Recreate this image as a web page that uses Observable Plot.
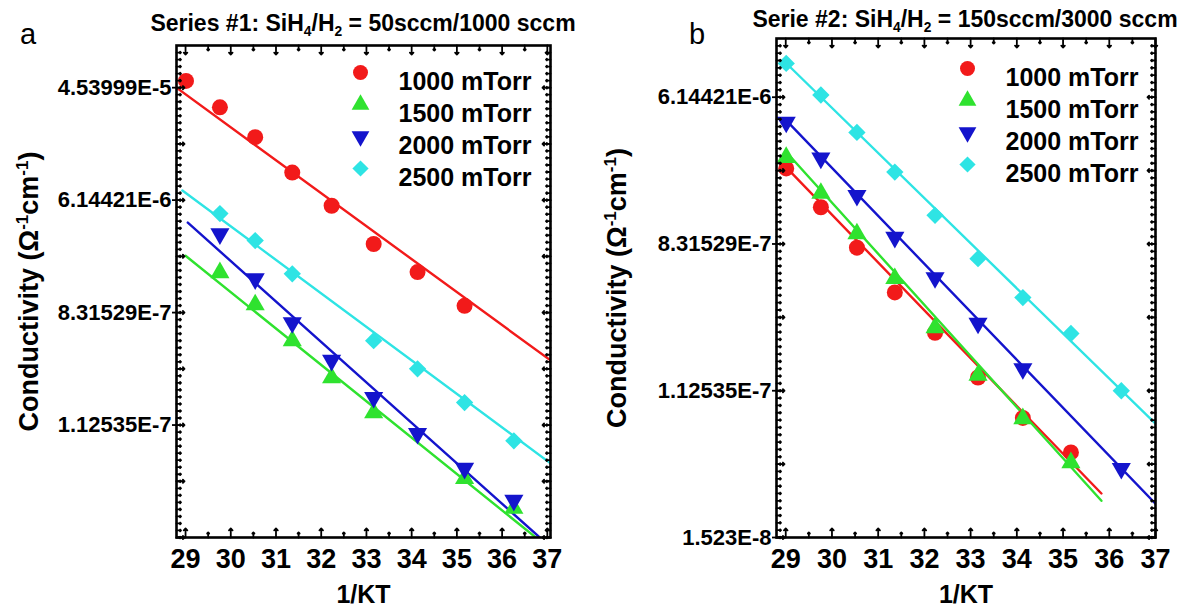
<!DOCTYPE html>
<html>
<head>
<meta charset="utf-8">
<script src="https://cdn.jsdelivr.net/npm/d3@7"></script>
<script src="https://cdn.jsdelivr.net/npm/@observablehq/plot@0.6"></script>
<style>
  body { margin: 0; background: #fff; }
  #root { position: relative; width: 1186px; height: 607px; overflow: hidden; font-family: "Liberation Sans", Arial, sans-serif; color: #000; }
  .panel { position: absolute; top: 0; }
  .title { position: absolute; font-weight: bold; font-size: 23px; white-space: nowrap; transform: translateX(-50%); line-height: 1; }
  .title sub { font-size: 60%; vertical-align: -0.35em; line-height: 0; }
  .letter { position: absolute; font-size: 29px; line-height: 1; }
</style>
</head>
<body>
<div id="root"></div>
<script>
// ---------- data ----------
const invKT = [29.01, 29.76, 30.54, 31.36, 32.23, 33.16, 34.13, 35.17, 36.26];
const seriesNames = ["1000 mTorr", "1500 mTorr", "2000 mTorr", "2500 mTorr"];
const seriesColors = ["#f21a1a", "#2fe22f", "#1414cc", "#2ee4e4"];

// ln(conductivity) (null = no point)
const a1000 = [-9.88, -10.35, -10.88, -11.51, -12.10, -12.78, -13.28, -13.88, null];
const a1500 = [null, -13.29, -13.86, -14.50, -15.16, -15.78, null, -16.95, -17.48];
const a2000 = [null, -12.60, -13.40, -14.18, -14.85, -15.51, -16.15, -16.77, -17.34];
const a2500 = [null, -12.24, -12.72, -13.31, null, -14.50, -15.00, -15.60, -16.28];
// ln(conductivity)
const b1000 = [-12.97, -13.50, -14.05, -14.66, -15.21, -15.82, -16.37, -16.84, null];
const b1500 = [-12.82, -13.31, -13.86, -14.47, -15.14, -15.79, -16.38, -16.98, null];
const b2000 = [-12.34, -12.83, -13.34, -13.91, -14.46, -15.08, -15.70, null, -17.06];
const b2500 = [-11.54, -11.97, -12.48, -13.02, -13.61, -14.20, -14.73, -15.22, -16.00];

// fitted lines (as drawn in the figure): start/end 1/KT and ln(conductivity)
const aFitX0  = [28.80, 29.00, 29.05, 28.93];
const aFitLn0 = [-10.00, -12.99, -12.40, -11.83];
const aFitX1  = [37.07, 37.07, 37.07, 37.07];
const aFitLn1 = [-14.85, -18.21, -18.17, -16.68];
const bFitX0  = [29.00, 29.00, 29.00, 28.95];
const bFitLn0 = [-12.95, -12.74, -12.31, -11.50];
const bFitX1  = [35.83, 35.83, 37.00, 37.00];
const bFitLn1 = [-17.40, -17.50, -17.54, -16.45];

// axis ticks
const xTickValues = [29, 30, 31, 32, 33, 34, 35, 36, 37];
const aYTickLn = [-10, -12, -14, -16];
const aYTickLabels = ["4.53999E-5", "6.14421E-6", "8.31529E-7", "1.12535E-7"];
const bYTickLn = [-12, -14, -16, -18];
const bYTickLabels = ["6.14421E-6", "8.31529E-7", "1.12535E-7", "1.523E-8"];

const titleA = 'Series #1: SiH<sub>4</sub>/H<sub>2</sub> = 50sccm/1000 sccm';
const titleB = 'Serie #2: SiH<sub>4</sub>/H<sub>2</sub> = 150sccm/3000 sccm';

// ---------- helpers ----------
const sqrt3 = Math.sqrt(3);
const triangleDown = {
  draw(context, size) {
    const y = -Math.sqrt(size / (sqrt3 * 3));
    context.moveTo(0, -y * 2);
    context.lineTo(-sqrt3 * y, y);
    context.lineTo(sqrt3 * y, y);
    context.closePath();
  }
};
const seriesSymbols = ["circle", "triangle", triangleDown, "diamond2"];
const seriesR = [8, 7.1, 7.1, 7.8];

function buildPanel(cfg) {
  const marks = [];
  const series = cfg.values.map((vals) =>
    vals.map((v, i) => v == null ? null : {x: invKT[i], y: v}).filter(d => d));
  // fitted lines
  seriesNames.forEach((name, si) => {
    const seg = [{x: cfg.fitX0[si], y: cfg.fitLn0[si]}, {x: cfg.fitX1[si], y: cfg.fitLn1[si]}];
    marks.push(Plot.line(seg, {x: "x", y: "y", stroke: seriesColors[si], strokeWidth: 2.4, clip: true}));
  });
  // points
  series.forEach((pts, si) => {
    marks.push(Plot.dot(pts, {x: "x", y: "y", symbol: seriesSymbols[si], r: seriesR[si], fill: seriesColors[si], stroke: "none"}));
  });
  // legend inside frame
  seriesNames.forEach((name, si) => {
    marks.push(Plot.dot([name], {frameAnchor: "top-right", dx: cfg.legendDx, dy: cfg.legendDy + 32 * si,
      symbol: seriesSymbols[si], r: seriesR[si] - 0.5, fill: seriesColors[si]}));
    marks.push(Plot.text([name], {frameAnchor: "top-right", dx: cfg.legendDx + 38, dy: cfg.legendDy + 32 * si,
      text: d => d, textAnchor: "start", fontSize: 25, fontWeight: "bold", fill: "black"}));
  });
  // ticks
  const [l0, l1] = cfg.lnDomain;
  const majorY = d3.range(Math.ceil(l0), l1 + 1e-9, 1);
  const minorY = d3.range(Math.ceil(l0), l1, 1 / cfg.minorPerUnit);
  const minorX = d3.range(29.5, 37, 1);
  const tick = {stroke: "black", strokeWidth: 1.8, anchor: "start"};
  marks.push(Plot.vector(minorY, {y: d => d, frameAnchor: "left", rotate: 90, length: 4.5, ...tick}));
  marks.push(Plot.vector(minorY, {y: d => d, frameAnchor: "right", rotate: -90, length: 4.5, ...tick}));
  marks.push(Plot.vector(majorY, {y: d => d, frameAnchor: "left", rotate: 90, length: 8, ...tick}));
  marks.push(Plot.vector(majorY, {y: d => d, frameAnchor: "right", rotate: -90, length: 8, ...tick}));
  marks.push(Plot.vector(xTickValues, {x: d => d, frameAnchor: "bottom", rotate: 0, length: 9, ...tick}));
  marks.push(Plot.vector(xTickValues, {x: d => d, frameAnchor: "top", rotate: 180, length: 9, ...tick}));
  marks.push(Plot.vector(minorX, {x: d => d, frameAnchor: "bottom", rotate: 0, length: 5, ...tick}));
  marks.push(Plot.vector(minorX, {x: d => d, frameAnchor: "top", rotate: 180, length: 5, ...tick}));
  // axes
  const labelMap = new Map(cfg.yTickLn.map((v, i) => [v, cfg.yTickLabels[i]]));
  marks.push(Plot.axisY(cfg.yTickLn, {anchor: "left", tickSize: 4, tickPadding: 1, strokeWidth: 1.8,
    tickFormat: d => labelMap.get(d), fontSize: 22, fontWeight: "bold", label: null}));
  marks.push(Plot.axisY({anchor: "left", ticks: [], label: "Conductivity (\u03A9-1cm-1)", labelAnchor: "center",
    labelArrow: "none", labelOffset: cfg.yLabelOffset, fontSize: 27, fontWeight: "bold"}));
  marks.push(Plot.axisX(xTickValues, {anchor: "bottom", tickSize: 0, tickPadding: 11, fontSize: 27, fontWeight: "bold", label: null}));
  marks.push(Plot.axisX({anchor: "bottom", ticks: [], label: "1/KT", labelAnchor: "center", labelArrow: "none",
    labelOffset: 65, fontSize: 25, fontWeight: "bold"}));
  marks.push(Plot.frame({stroke: "black", strokeWidth: 2.6}));

  const svg = Plot.plot({
    width: cfg.width, height: 607,
    marginLeft: cfg.margin[0], marginRight: cfg.margin[1], marginTop: cfg.margin[2], marginBottom: cfg.margin[3],
    x: {domain: cfg.xDomain},
    y: {type: "linear", domain: [l0, l1]},
    style: {fontFamily: '"Liberation Sans", Arial, sans-serif', color: "black", background: "transparent", overflow: "visible"},
    marks
  });
  // superscripts in y label
  const lab = d3.select(svg).select('g[aria-label="y-axis label"] text');
  if (!lab.empty()) {
    lab.text(null);
    lab.append("tspan").text("Conductivity (\u03A9");
    lab.append("tspan").attr("font-size", 17).attr("dy", -10).text("-1");
    lab.append("tspan").attr("dy", 10).text("cm");
    lab.append("tspan").attr("font-size", 17).attr("dy", -10).text("-1");
    lab.append("tspan").attr("dy", 10).text(")");
  }
  return svg;
}

const root = document.getElementById("root");

const panelA = buildPanel({
  width: 593, margin: [176, 43, 45, 70],
  xDomain: [28.8, 37.07], lnDomain: [-18, -9.25], minorPerUnit: 8,
  values: [a1000, a1500, a2000, a2500],
  fitX0: aFitX0, fitLn0: aFitLn0, fitX1: aFitX1, fitLn1: aFitLn1,
  yTickLn: aYTickLn, yTickLabels: aYTickLabels, yLabelOffset: 158,
  legendDx: -190, legendDy: 27
});
const panelB = buildPanel({
  width: 593, margin: [183, 31, 38, 70],
  xDomain: [28.8, 37.0], lnDomain: [-18, -11.2], minorPerUnit: 10,
  values: [b1000, b1500, b2000, b2500],
  fitX0: bFitX0, fitLn0: bFitLn0, fitX1: bFitX1, fitLn1: bFitLn1,
  yTickLn: bYTickLn, yTickLabels: bYTickLabels, yLabelOffset: 170,
  legendDx: -188, legendDy: 30
});

const wrapA = document.createElement("div"); wrapA.className = "panel"; wrapA.style.left = "0px"; wrapA.appendChild(panelA);
const wrapB = document.createElement("div"); wrapB.className = "panel"; wrapB.style.left = "593px"; wrapB.appendChild(panelB);
root.appendChild(wrapA); root.appendChild(wrapB);

function addDiv(cls, html, left, top) {
  const d = document.createElement("div");
  d.className = cls; d.innerHTML = html; d.style.left = left + "px"; d.style.top = top + "px";
  root.appendChild(d);
}
addDiv("title", titleA, 363, 12);
addDiv("title", titleB, 965, 8);
addDiv("letter", "a", 20, 20);
addDiv("letter", "b", 689, 20);
</script>
</body>
</html>
